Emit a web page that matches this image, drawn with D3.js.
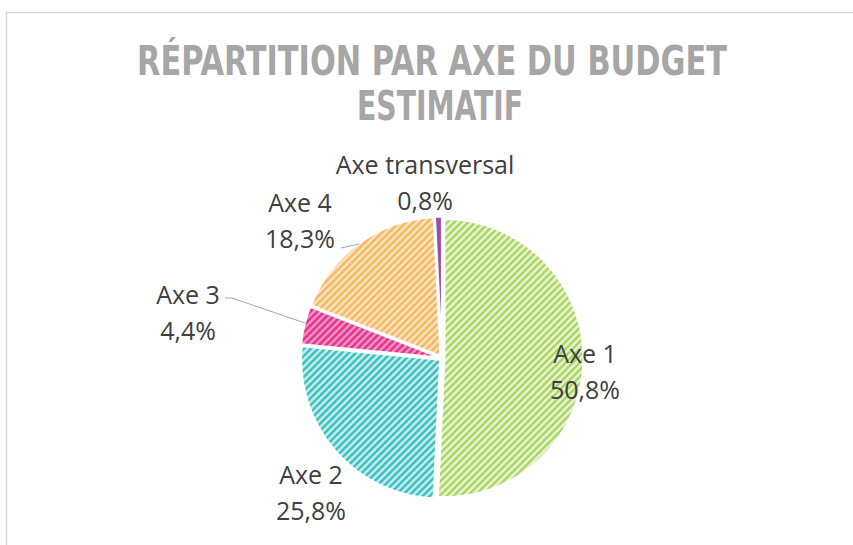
<!DOCTYPE html>
<html>
<head>
<meta charset="utf-8">
<script src="https://cdn.jsdelivr.net/npm/d3@7"></script>
<style>
  body { margin: 0; background: #fff; }
  svg { display: block; }
</style>
</head>
<body>
<div id="chart"></div>
<script>
// data
var categories = ["Axe 1", "Axe 2", "Axe 3", "Axe 4", "Axe transversal"]
var values = [50.8, 25.8, 4.4, 18.3, 0.8]
var valueLabels = ["50,8%", "25,8%", "4,4%", "18,3%", "0,8%"]
var titleLines = ["RÉPARTITION PAR AXE DU BUDGET", "ESTIMATIF"]

// look
var fgColors = ["#a8d45c", "#35bdbd", "#e3338f", "#f7b55c", "#9c4ea6"]
var bgColors = ["#e9f5d8", "#caeeee", "#f5a8d0", "#fde4c3", "#9c4ea6"]
var labelPos = [[585, 363], [311, 484], [188, 304], [300, 212], [425, 174]]

var W = 853, H = 545
var cx = 442, cy = 358, R = 139

var svg = d3.select("#chart").append("svg")
  .attr("width", W)
  .attr("height", H)

// chart frame
svg.append("rect")
  .attr("x", 6.5).attr("y", 12.5)
  .attr("width", W + 10).attr("height", H + 10)
  .attr("fill", "none")
  .attr("stroke", "#d9d9d9")
  .attr("stroke-width", 1.5)

// hatch patterns
var defs = svg.append("defs")
categories.forEach(function(c, i){
  var p = defs.append("pattern")
    .attr("id", "hatch" + i)
    .attr("patternUnits", "userSpaceOnUse")
    .attr("width", 7).attr("height", 7)
  p.append("rect").attr("width", 7).attr("height", 7).attr("fill", bgColors[i])
  p.append("path")
    .attr("d", "M-1,1 l2,-2 M0,7 l7,-7 M6,8 l2,-2")
    .attr("stroke", fgColors[i])
    .attr("stroke-width", i == 2 ? 3 : 2.4)
})

// title
var title = svg.append("g")
  .attr("font-family", "'DejaVu Sans Condensed', 'Open Sans', sans-serif")
  .attr("font-weight", "bold")
  .attr("fill", "#a6a6a6")
  .attr("text-anchor", "middle")
title.append("text")
  .attr("x", 432).attr("y", 75)
  .attr("font-size", 40)
  .attr("textLength", 590)
  .attr("lengthAdjust", "spacingAndGlyphs")
  .text(titleLines[0])
title.append("text")
  .attr("x", 440).attr("y", 120)
  .attr("font-size", 40)
  .attr("textLength", 166)
  .attr("lengthAdjust", "spacingAndGlyphs")
  .text(titleLines[1])

// pie
var pie = d3.pie().sort(null).value(function(d){ return d })
var arc = d3.arc().innerRadius(0).outerRadius(R)
var arcs = pie(values)
var explode = 2.5

var g = svg.append("g").attr("transform", "translate(" + cx + "," + cy + ")")
g.selectAll("path")
  .data(arcs).enter()
  .append("path")
  .attr("d", arc)
  .attr("transform", function(d){
    var a = (d.startAngle + d.endAngle) / 2
    return "translate(" + (Math.sin(a) * explode) + "," + (-Math.cos(a) * explode) + ")"
  })
  .attr("fill", function(d, i){ return "url(#hatch" + i + ")" })
  .attr("stroke", "#fff")
  .attr("stroke-width", 2)

// leader lines
var leaders = [
  [[341, 248], [359, 244]],
  [[225, 298], [232, 298], [305, 323]]
]
svg.selectAll(".leader")
  .data(leaders).enter()
  .append("path")
  .attr("class", "leader")
  .attr("d", d3.line())
  .attr("fill", "none")
  .attr("stroke", "#a6a6a6")
  .attr("stroke-width", 1)

// data labels
var labels = svg.append("g")
  .attr("font-family", "'Open Sans', sans-serif")
  .attr("font-size", 25)
  .attr("fill", "#404040")
  .attr("text-anchor", "middle")
categories.forEach(function(c, i){
  var t = labels.append("text")
    .attr("x", labelPos[i][0]).attr("y", labelPos[i][1])
  t.append("tspan").attr("x", labelPos[i][0]).text(c)
  t.append("tspan").attr("x", labelPos[i][0]).attr("dy", 36).text(valueLabels[i])
})
</script>
</body>
</html>
